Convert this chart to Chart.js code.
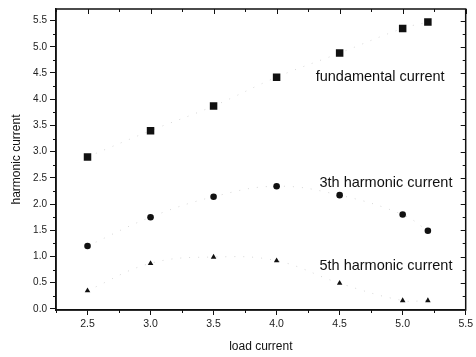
<!DOCTYPE html>
<html>
<head>
<meta charset="utf-8">
<script src="https://cdn.jsdelivr.net/npm/chart.js@4"></script>
<style>
  html, body { margin: 0; padding: 0; background: #fff; }
  #wrap { width: 476px; height: 357px; }
</style>
</head>
<body>
<div id="wrap"><canvas id="harmonic-chart"></canvas></div>
<script>
// load current (x) shared by all three series
const loadCurrent = [2.5, 3.0, 3.5, 4.0, 4.5, 5.0, 5.2];

const fundamental = [2.90, 3.40, 3.87, 4.42, 4.88, 5.35, 5.47];
const harmonic3 = [1.20, 1.75, 2.14, 2.34, 2.17, 1.80, 1.49];
const harmonic5 = [0.35, 0.87, 0.99, 0.92, 0.49, 0.16, 0.16];

const seriesNames = ['fundamental current', '3th harmonic current', '5th harmonic current'];
// where each series name sits, in data units (left edge, middle)
const labelX = [4.31, 4.34, 4.34];
const labelY = [4.43, 2.40, 0.81];

const xTicks = [2.5, 3.0, 3.5, 4.0, 4.5, 5.0, 5.5];
const yTicks = [0.0, 0.5, 1.0, 1.5, 2.0, 2.5, 3.0, 3.5, 4.0, 4.5, 5.0, 5.5];

document.addEventListener("DOMContentLoaded", mainJs);

function toPoints(ys) {
    return loadCurrent.map((x, i) => ({ x: x, y: ys[i] }));
}

// frame, mirrored ticks and minor ticks, like the origin-style plot
const framePlugin = {
    id: 'frame',
    afterDatasetsDraw(chart) {
        const { ctx, chartArea: a, scales } = chart;
        const xs = scales.x, ys = scales.y;
        ctx.save();
        ctx.strokeStyle = '#111';
        ctx.lineWidth = 1.5;
        ctx.strokeRect(a.left, a.top, a.right - a.left, a.bottom - a.top);
        ctx.lineWidth = 1;
        ctx.beginPath();
        for (let v = 2.25; v <= 5.51; v += 0.25) {
            const px = Math.round(xs.getPixelForValue(v)) + 0.5;
            const major = Math.abs(v * 2 - Math.round(v * 2)) < 1e-6;
            const len = major ? 5 : 3;
            // top, inward
            ctx.moveTo(px, a.top); ctx.lineTo(px, a.top + len);
            if (!major) { ctx.moveTo(px, a.bottom); ctx.lineTo(px, a.bottom + 3); }
        }
        for (let v = 0; v <= 5.7; v += 0.25) {
            const py = Math.round(ys.getPixelForValue(v)) + 0.5;
            const major = Math.abs(v * 2 - Math.round(v * 2)) < 1e-6;
            const len = major ? 5 : 3;
            // right, inward
            ctx.moveTo(a.right, py); ctx.lineTo(a.right - len, py);
            if (!major) { ctx.moveTo(a.left, py); ctx.lineTo(a.left - 3, py); }
        }
        ctx.stroke();

        ctx.fillStyle = '#111';
        ctx.font = '14.5px "Liberation Sans", Arial, sans-serif';
        ctx.textAlign = 'left';
        ctx.textBaseline = 'middle';
        seriesNames.forEach((name, i) => {
            ctx.fillText(name, xs.getPixelForValue(labelX[i]), ys.getPixelForValue(labelY[i]));
        });
        ctx.restore();
    }
};

function mainJs(){
    const ctx = document.getElementById('harmonic-chart');

    const lineStyle = {
        showLine: true,
        borderColor: '#d6d6d6',
        borderWidth: 1,
        borderDash: [1, 8],
        tension: 0.4,
        pointBackgroundColor: '#111',
        pointBorderColor: '#111',
        pointBorderWidth: 0
    };

    new Chart(ctx, {
        type: 'scatter',
        data: {
            datasets: [
                Object.assign({ label: seriesNames[0], data: toPoints(fundamental), pointStyle: 'rect', pointRadius: 5.3 }, lineStyle),
                Object.assign({ label: seriesNames[1], data: toPoints(harmonic3), pointStyle: 'circle', pointRadius: 3.3 }, lineStyle),
                Object.assign({ label: seriesNames[2], data: toPoints(harmonic5), pointStyle: 'triangle', pointRadius: 3.2 }, lineStyle)
            ]
        },
        options: {
            responsive: true,
            maintainAspectRatio: false,
            animation: false,
            layout: { padding: { top: 8, right: 5, left: 0, bottom: 0 } },
            plugins: {
                legend: { display: false },
                tooltip: { enabled: false }
            },
            scales: {
                x: {
                    type: 'linear',
                    min: 2.25,
                    max: 5.5,
                    afterFit: s => { s.height = 47; },
                    afterBuildTicks: s => { s.ticks = xTicks.map(v => ({ value: v })); },
                    grid: { display: true, drawOnChartArea: false, tickLength: 5, color: '#111', lineWidth: 1 },
                    border: { display: true, color: '#111', width: 1.5 },
                    ticks: {
                        color: '#222',
                        padding: 3,
                        maxRotation: 0,
                        font: { family: '"Liberation Sans", Arial, sans-serif', size: 10.5 },
                        callback: v => v.toFixed(1)
                    },
                    title: {
                        display: true,
                        text: 'load current',
                        color: '#111',
                        font: { family: '"Liberation Sans", Arial, sans-serif', size: 12 },
                        padding: { top: 0, bottom: 3 }
                    }
                },
                y: {
                    type: 'linear',
                    min: -0.02,
                    max: 5.72,
                    afterFit: s => { s.width = 56; },
                    afterBuildTicks: s => { s.ticks = yTicks.map(v => ({ value: v })); },
                    grid: { display: true, drawOnChartArea: false, tickLength: 6, color: '#111', lineWidth: 1 },
                    border: { display: true, color: '#111', width: 1.5 },
                    ticks: {
                        color: '#222',
                        padding: 3,
                        font: { family: '"Liberation Sans", Arial, sans-serif', size: 10 },
                        callback: v => v.toFixed(1)
                    },
                    title: {
                        display: true,
                        text: 'harmonic current',
                        color: '#111',
                        font: { family: '"Liberation Sans", Arial, sans-serif', size: 12 },
                        padding: { top: 9, bottom: 0 }
                    }
                }
            }
        },
        plugins: [framePlugin]
    });
}
</script>
</body>
</html>
